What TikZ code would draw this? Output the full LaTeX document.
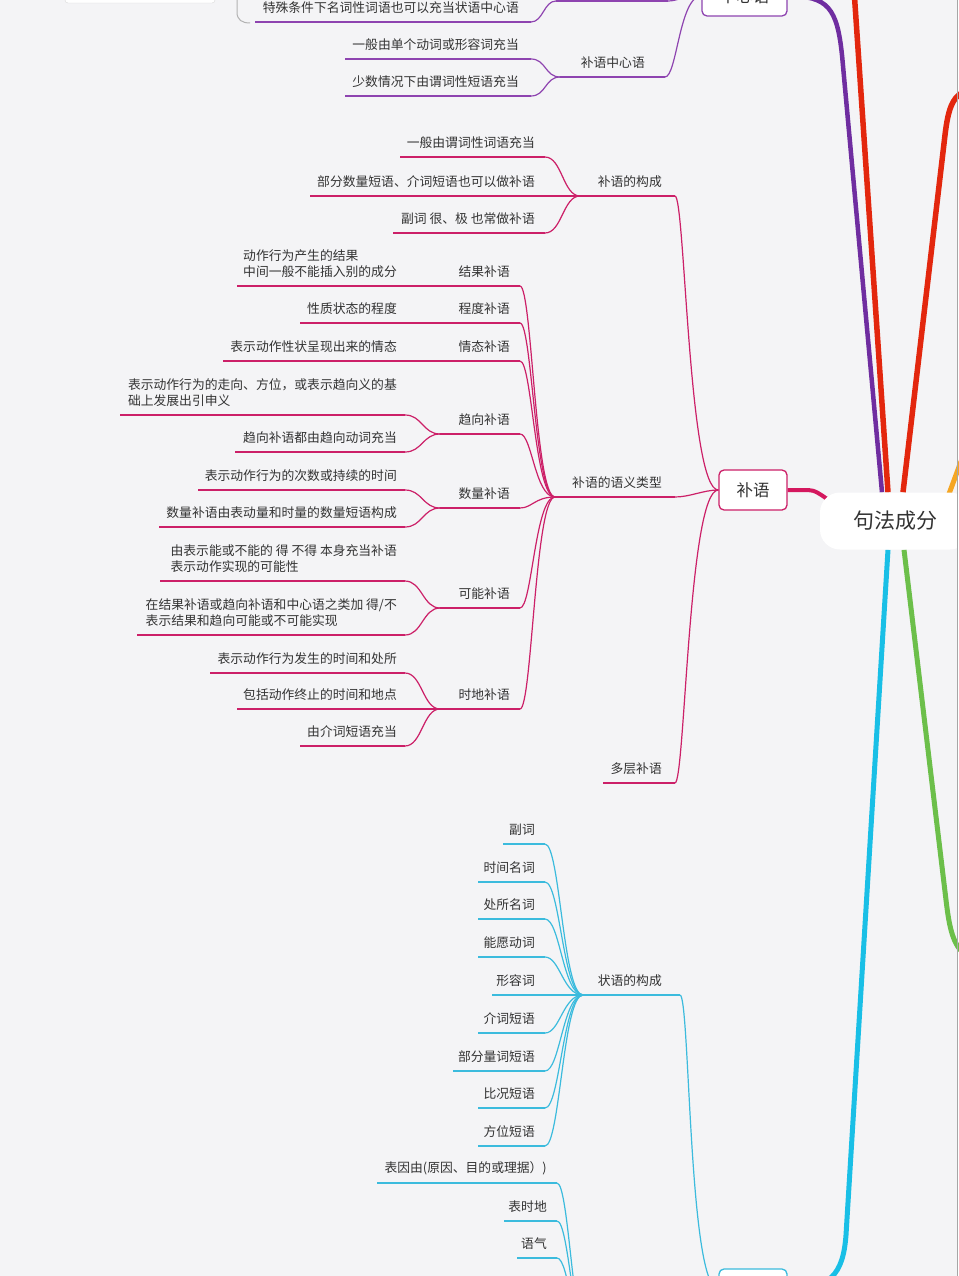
\documentclass[tikz,border=0pt]{standalone}
\usepackage{fontspec}
\setmainfont{Noto Sans CJK SC}
\definecolor{bgc}{HTML}{F4F4F6}
\definecolor{txt}{HTML}{333333}
\definecolor{pur}{HTML}{6F2DA0}
\definecolor{purt}{HTML}{8E44B0}
\definecolor{redc}{HTML}{E3270E}
\definecolor{cri}{HTML}{D4175E}
\definecolor{crit}{HTML}{CC2068}
\definecolor{cya}{HTML}{19BFE6}
\definecolor{cyat}{HTML}{3BBBDD}
\definecolor{grn}{HTML}{6CBF4A}
\definecolor{org}{HTML}{F5A623}
\pgfdeclarelayer{back}
\pgfdeclarelayer{lines}
\pgfsetlayers{back,lines,main}
\newcommand\tf{\fontsize{12.8}{16}\selectfont}
\newcommand\leaf[7]{%
  \coordinate (#2-l) at (#3,#5);
  \coordinate (#2-r) at (#4,#5);
  \begin{pgfonlayer}{lines}\draw[#1] (#2-l) -- (#2-r);\end{pgfonlayer}
  \node[lf] (#2) at (#6,#5-8) {#7};}
\newcommand\lnk[5]{\begin{pgfonlayer}{lines}\draw[#1] (#2) .. controls +(#4,0) and +(-#5,0) .. (#3);\end{pgfonlayer}}
\newcommand\strt[3]{\begin{pgfonlayer}{lines}\draw[#1] (#2) -- (#3);\end{pgfonlayer}}
\begin{document}
\begin{tikzpicture}[x=1pt,y=-1pt,
  lf/.style={font=\tf, text=txt, inner sep=0pt, anchor=south east, align=left},
  box/.style={draw, fill=white, rounded corners=5pt, line width=1.3pt, minimum width=#1, minimum height=40pt, inner sep=0pt, font=\fontsize{16.5}{18}\selectfont, text=txt},
  pl/.style={purt, line width=1.2pt},
  cl/.style={crit, line width=1.2pt},
  yl/.style={cyat, line width=1.2pt}]
\begin{pgfonlayer}{back}
\fill[bgc] (0,0) rectangle (958,1276);
\end{pgfonlayer}
\useasboundingbox (0,0) rectangle (958,1276);

% root and boxes
\node[fill=white, rounded corners=20pt, minimum width=150pt, minimum height=57pt, font=\fontsize{21}{24}\selectfont, text=txt] (root) at (895,521) {句法成分};
\node[box=85pt, draw=purt] (zx) at (744.5,-4) {中心语};
\node[box=68pt, draw=crit] (bu) at (753,490) {补语};
\node[box=68pt, draw=cyat] (zy) at (753,1289) {};

% thick main branches
\coordinate (r1top) at (852,-40);
\coordinate (r2top) at (963,92);
\coordinate (oA) at (946,502);
\coordinate (oB) at (963,456);
\coordinate (gend) at (963,953);
\begin{pgfonlayer}{lines}
\draw[pur, line width=4.5pt] ([xshift=-13pt]root.north) -- (842,55) .. controls (837,8) and (828,-4) .. (zx.east);
\draw[redc, line width=5.5pt] ([xshift=-7pt]root.north) -- (r1top);
\draw[redc, line width=5.5pt] ([xshift=8pt]root.north) -- (945,135) .. controls (948,110) and (952,98) .. (r2top);
\draw[org, line width=5pt] (oA) -- (oB);
\draw[cya, line width=5pt] ([xshift=-7pt]root.south) -- (846,1235) .. controls (843,1275) and (830,1289) .. (zy.east);
\draw[grn, line width=5pt] ([xshift=9pt]root.south) -- (946,900) .. controls (949,925) and (952,942) .. (gend);
\draw[cri, line width=4pt] (bu.east) -- (808,490) .. controls (815,490) and (820,494) .. ([xshift=12pt,yshift=-10pt]root.north west);
\end{pgfonlayer}

% top-left partial box and summary bracket
\node[fill=white, draw=black!15, rounded corners=3pt, minimum width=150pt, minimum height=30pt, inner sep=0pt] (tlbox) at (140,-12) {};
\draw[black!30, line width=1pt] (237,-5) -- (237,12) .. controls (237,20) and (242,23) .. (250,23);

% purple section
\coordinate (p0-l) at (556,1);
\coordinate (p0-r) at (668,1);
\strt{pl}{p0-l}{p0-r}
\lnk{pl}{p0-r}{zx.west}{10}{20}
\leaf{pl}{tsj}{255}{531}{22}{519}{特殊条件下名词性词语也可以充当状语中心语}
\lnk{pl}{tsj-r}{p0-l}{12}{12}
\leaf{pl}{bz}{560}{665}{77}{645}{补语中心语}
\lnk{pl}{bz-r}{zx.west}{12}{22}
\leaf{pl}{yb1}{345}{531}{59}{519}{一般由单个动词或形容词充当}
\leaf{pl}{yb2}{345}{531}{96}{519}{少数情况下由谓词性短语充当}
\lnk{pl}{yb1-r}{bz-l}{15}{15}
\lnk{pl}{yb2-r}{bz-l}{15}{15}

% buyu section
\leaf{cl}{bg}{580}{675}{196}{662}{补语的构成}
\leaf{cl}{yy}{555}{675}{497}{662}{补语的语义类型}
\leaf{cl}{dc}{603}{675}{783}{662}{多层补语}
\lnk{cl}{bg-r}{bu.west}{10}{30}
\lnk{cl}{yy-r}{bu.west}{15}{15}
\lnk{cl}{dc-r}{bu.west}{10}{30}
\leaf{cl}{g1}{400}{545}{157}{535}{一般由谓词性词语充当}
\leaf{cl}{g2}{310}{580}{196}{535}{部分数量短语、介词短语也可以做补语}
\leaf{cl}{g3}{393}{545}{233}{535}{副词 很、极 也常做补语}
\lnk{cl}{g1-r}{bg-l}{17}{17}
\lnk{cl}{g3-r}{bg-l}{17}{17}

\leaf{cl}{jg}{440}{520}{286}{510}{结果补语}
\leaf{cl}{cd}{440}{520}{323}{510}{程度补语}
\leaf{cl}{qt}{440}{520}{361}{510}{情态补语}
\leaf{cl}{qx}{440}{520}{434}{510}{趋向补语}
\leaf{cl}{sl}{440}{520}{508}{510}{数量补语}
\leaf{cl}{kn}{440}{520}{608}{510}{可能补语}
\leaf{cl}{sd}{440}{520}{709}{510}{时地补语}
\lnk{cl}{jg-r}{yy-l}{12}{20}
\lnk{cl}{cd-r}{yy-l}{12}{20}
\lnk{cl}{qt-r}{yy-l}{12}{20}
\lnk{cl}{qx-r}{yy-l}{12}{20}
\lnk{cl}{sl-r}{yy-l}{12}{20}
\lnk{cl}{kn-r}{yy-l}{12}{20}
\lnk{cl}{sd-r}{yy-l}{12}{20}

\leaf{cl}{jg1}{237}{405}{286}{397}{动作行为产生的结果\\中间一般不能插入别的成分}
\strt{cl}{jg1-r}{jg-l}
\leaf{cl}{cd1}{300}{405}{323}{397}{性质状态的程度}
\strt{cl}{cd1-r}{cd-l}
\leaf{cl}{qt1}{223}{405}{361}{397}{表示动作性状呈现出来的情态}
\strt{cl}{qt1-r}{qt-l}
\leaf{cl}{qx1}{120}{405}{415}{397}{表示动作行为的走向、方位，或表示趋向义的基\\础上发展出引申义}
\leaf{cl}{qx2}{235}{405}{452}{397}{趋向补语都由趋向动词充当}
\lnk{cl}{qx1-r}{qx-l}{17}{17}
\lnk{cl}{qx2-r}{qx-l}{17}{17}
\leaf{cl}{sl1}{198}{405}{490}{397}{表示动作行为的次数或持续的时间}
\leaf{cl}{sl2}{159}{405}{527}{397}{数量补语由表动量和时量的数量短语构成}
\lnk{cl}{sl1-r}{sl-l}{17}{17}
\lnk{cl}{sl2-r}{sl-l}{17}{17}
\leaf{cl}{kn1}{160}{405}{581}{397}{由表示能或不能的 得 不得 本身充当补语\\表示动作实现的可能性}
\leaf{cl}{kn2}{137}{405}{635}{397}{在结果补语或趋向补语和中心语之类加 得/不\\表示结果和趋向可能或不可能实现}
\lnk{cl}{kn1-r}{kn-l}{17}{17}
\lnk{cl}{kn2-r}{kn-l}{17}{17}
\leaf{cl}{sd1}{210}{405}{673}{397}{表示动作行为发生的时间和处所}
\leaf{cl}{sd2}{237}{405}{709}{397}{包括动作终止的时间和地点}
\leaf{cl}{sd3}{300}{405}{746}{397}{由介词短语充当}
\lnk{cl}{sd1-r}{sd-l}{17}{17}
\strt{cl}{sd2-r}{sd-l}
\lnk{cl}{sd3-r}{sd-l}{17}{17}

% zhuangyu section
\leaf{yl}{zg}{583}{680}{995}{662}{状语的构成}
\lnk{yl}{zg-r}{zy.west}{10}{30}
\leaf{yl}{a1}{503}{545}{844}{535}{副词}
\leaf{yl}{a2}{478}{545}{882}{535}{时间名词}
\leaf{yl}{a3}{478}{545}{919}{535}{处所名词}
\leaf{yl}{a4}{478}{545}{957}{535}{能愿动词}
\leaf{yl}{a5}{492}{583}{995}{535}{形容词}
\leaf{yl}{a6}{478}{545}{1033}{535}{介词短语}
\leaf{yl}{a7}{453}{545}{1071}{535}{部分量词短语}
\leaf{yl}{a8}{478}{545}{1108}{535}{比况短语}
\leaf{yl}{a9}{478}{545}{1146}{535}{方位短语}
\lnk{yl}{a1-r}{zg-l}{15}{20}
\lnk{yl}{a2-r}{zg-l}{15}{20}
\lnk{yl}{a3-r}{zg-l}{15}{20}
\lnk{yl}{a4-r}{zg-l}{15}{20}
\lnk{yl}{a6-r}{zg-l}{15}{20}
\lnk{yl}{a7-r}{zg-l}{15}{20}
\lnk{yl}{a8-r}{zg-l}{15}{20}
\lnk{yl}{a9-r}{zg-l}{15}{20}

\coordinate (zj) at (588,1340);
\leaf{yl}{b1}{377}{557}{1183}{547}{表因由(原因、目的或理据）)}
\leaf{yl}{b2}{504}{557}{1221}{547}{表时地}
\leaf{yl}{b3}{517}{557}{1258}{547}{语气}
\lnk{yl}{b1-r}{zj}{12}{15}
\lnk{yl}{b2-r}{zj}{12}{15}
\lnk{yl}{b3-r}{zj}{12}{15}

% right edge line
\draw[black!35, line width=1pt] (957.5,0) -- (957.5,1276);
\end{tikzpicture}
\end{document}
